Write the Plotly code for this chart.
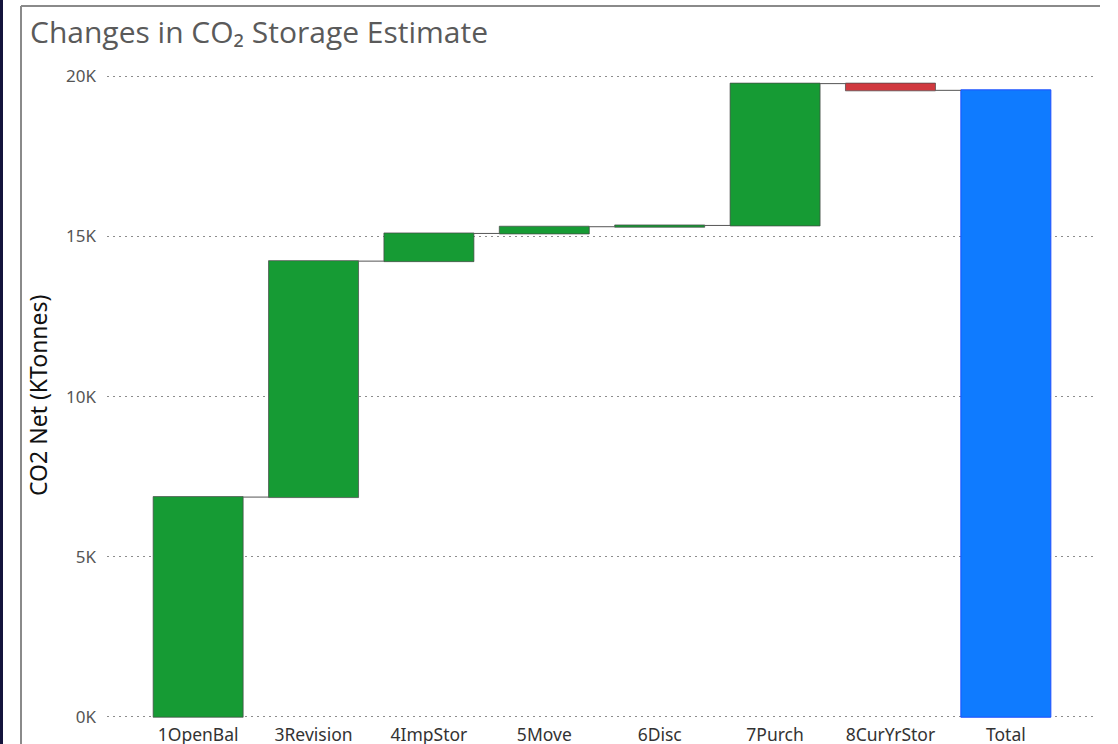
import plotly.graph_objects as go

categories = ["1OpenBal", "3Revision", "4ImpStor", "5Move", "6Disc", "7Purch", "8CurYrStor", "Total"]
measures = ["relative", "relative", "relative", "relative", "relative", "relative", "relative", "total"]
values = [6860, 7370, 865, 210, 40, 4430, -210, 0]
tick_vals = [0, 5000, 10000, 15000, 20000]
tick_text = ["0K", "5K", "10K", "15K", "20K"]

W, H = 1118, 744
PL, PR, PT, PB = 107, 1097, 70, 718
pw, ph = PR - PL, PB - PT


def px(x):
    return (x - PL) / pw


def py(y):
    return (PB - y) / ph


fig = go.Figure(go.Waterfall(
    x=categories,
    y=values,
    measure=measures,
    width=0.78,
    increasing=dict(marker=dict(color="#169B34", line=dict(color="rgba(70,70,70,0.7)", width=1))),
    decreasing=dict(marker=dict(color="#D0393F", line=dict(color="rgba(70,70,70,0.7)", width=1))),
    totals=dict(marker=dict(color="#0F7BFF", line=dict(color="#1F4FFF", width=1))),
    connector=dict(mode="between", line=dict(color="#555555", width=1)),
    hoverinfo="x+y",
))

fig.update_layout(
    width=W, height=H,
    margin=dict(l=PL, r=W - PR, t=PT, b=H - PB, autoexpand=False),
    paper_bgcolor="white", plot_bgcolor="white",
    showlegend=False,
    font=dict(family="Noto Sans, Open Sans, sans-serif", color="#333333"),
    xaxis=dict(
        range=[-0.79, 7.79], showgrid=False, showline=False, zeroline=False,
        tickfont=dict(size=17.5, color="#333333", family="Noto Sans, sans-serif"),
        ticks="", automargin=False, ticklabelstandoff=4,
    ),
    yaxis=dict(
        range=[-40, 20200], tickvals=tick_vals, ticktext=tick_text,
        showgrid=True, gridcolor="#8c8c8c", griddash="1.5px,4.5px", gridwidth=1,
        zeroline=False, showline=False, ticks="", ticklabelstandoff=10,
        automargin=False,
        tickfont=dict(size=17, color="#555555", family="Noto Sans, sans-serif"),
    ),
    annotations=[
        dict(text="Changes in CO₂ Storage Estimate", xref="paper", yref="paper",
             x=px(28), y=py(31), xanchor="left", yanchor="middle",
             showarrow=False, font=dict(size=30, color="#5a5a5a", family="Open Sans, sans-serif")),
        dict(text="CO2 Net (KTonnes)", xref="paper", yref="paper",
             x=px(38), y=py(396), xanchor="center", yanchor="middle",
             textangle=-90, showarrow=False,
             font=dict(size=23, color="#111111", family="Noto Sans, sans-serif")),
    ],
    shapes=[
        dict(type="line", xref="paper", yref="paper",
             x0=px(21), x1=px(21), y0=py(6), y1=py(750),
             line=dict(color="#8a8a8a", width=2)),
        dict(type="line", xref="paper", yref="paper",
             x0=px(21), x1=px(1100), y0=py(6), y1=py(6),
             line=dict(color="#8a8a8a", width=2)),
        dict(type="rect", xref="paper", yref="paper",
             x0=px(-1), x1=px(3), y0=py(-1), y1=py(750),
             fillcolor="#14143c", line=dict(width=0)),
    ],
)

fig.write_html("out.html", config={"displayModeBar": False},
               post_script="document.body.style.margin='0px';document.body.style.overflow='hidden';")
